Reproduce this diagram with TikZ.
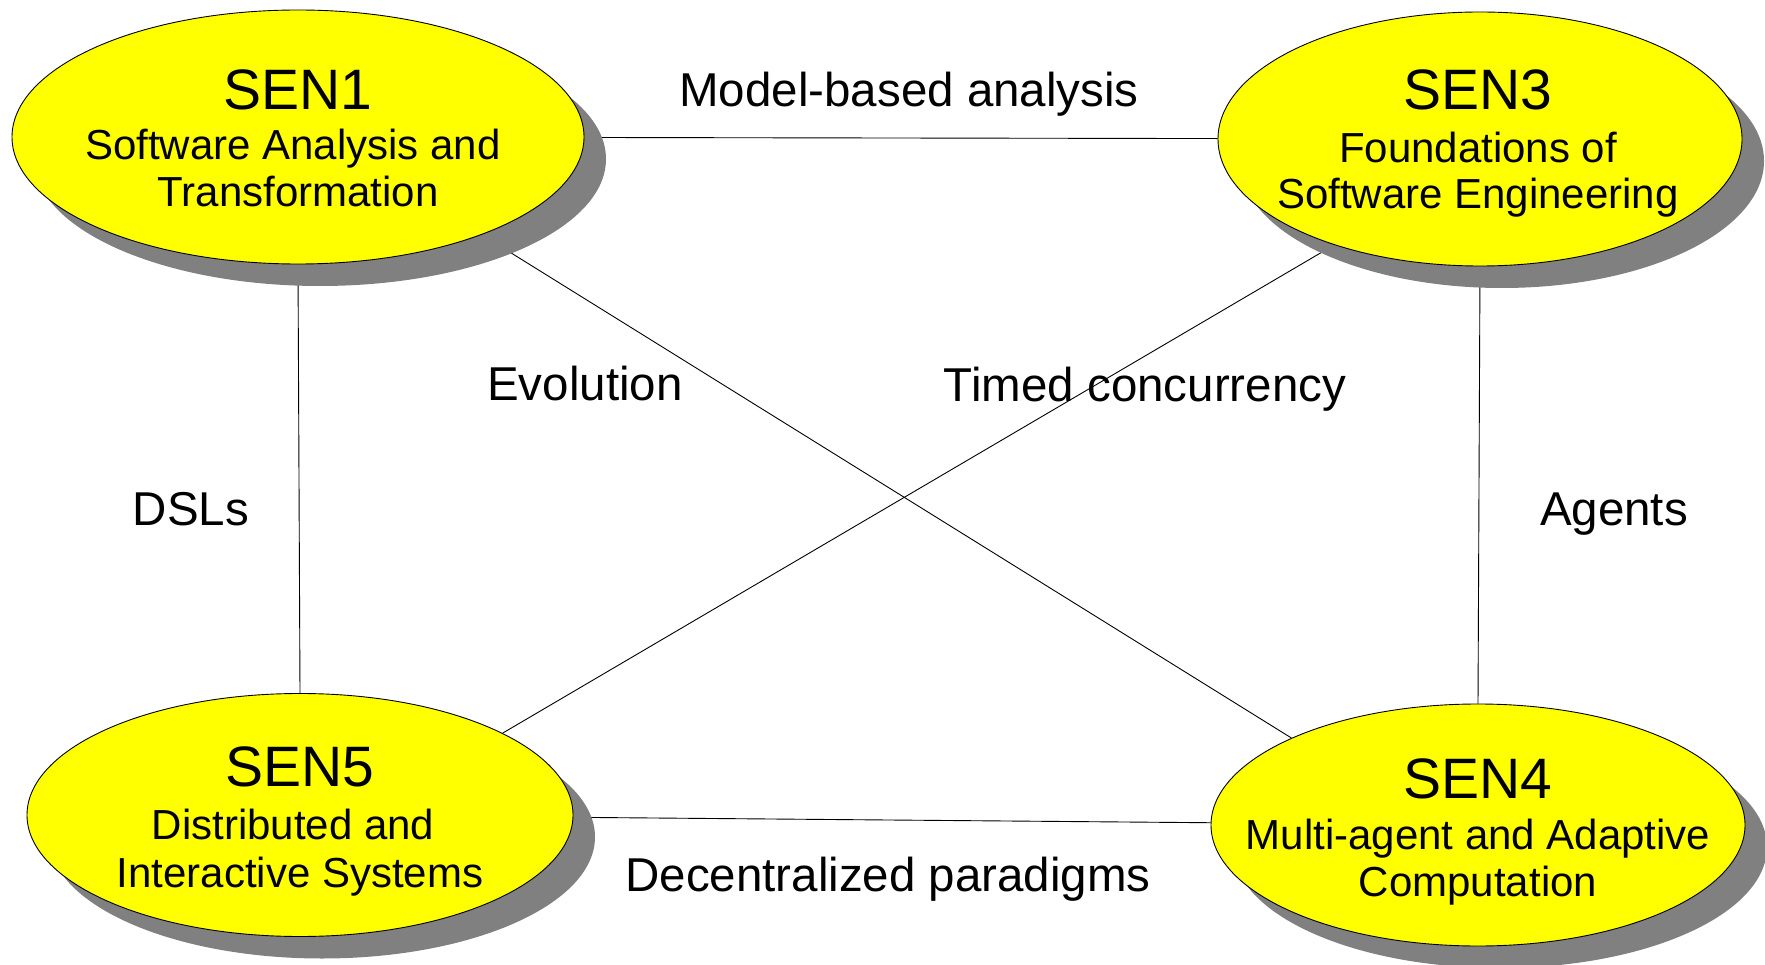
\documentclass[tikz,border=0pt]{standalone}
\usepackage{fontspec}
\setmainfont{Liberation Sans}
\usetikzlibrary{shapes.geometric,shadows}
\pgfdeclarelayer{background}
\pgfsetlayers{background,main}
\definecolor{senyellow}{RGB}{255,255,0}
\definecolor{sengray}{RGB}{128,128,128}
\begin{document}
\begin{tikzpicture}[x=1pt,y=-1pt,
  sen/.style={ellipse,draw=black,line width=0.9pt,fill=senyellow,inner sep=0pt,
    drop shadow={shadow xshift=22pt,shadow yshift=-22pt,fill=sengray,opacity=1}},
  title/.style={anchor=base,inner sep=0pt,font=\fontsize{57}{57}\selectfont},
  sub/.style={anchor=base,inner sep=0pt,font=\fontsize{42}{42}\selectfont},
  lab/.style={anchor=base,inner sep=0pt,font=\fontsize{47.5}{47.5}\selectfont},
  link/.style={draw=black,line width=0.9pt}]
\useasboundingbox (0,0) rectangle (1765,965);

\node[sen,minimum width=572pt,minimum height=254pt] (sen1) at (298,137) {};
\node[sen,minimum width=524pt,minimum height=254pt] (sen3) at (1480,139) {};
\node[sen,minimum width=546pt,minimum height=243pt] (sen5) at (300,815) {};
\node[sen,minimum width=534pt,minimum height=242pt] (sen4) at (1478,825) {};

\node[title] (t1) at (298,110) {SEN1};
\node[sub] (s1a) at (293,160) {Software Analysis and};
\node[sub] (s1b) at (298,207) {Transformation};

\node[title] (t3) at (1478,110) {SEN3};
\node[sub] (s3a) at (1478,163) {Foundations of};
\node[sub] (s3b) at (1478,209) {Software Engineering};

\node[title] (t5) at (300,786) {SEN5};
\node[sub] (s5a) at (293,839) {Distributed and};
\node[sub] (s5b) at (300,887) {Interactive Systems};

\node[title] (t4) at (1478,798) {SEN4};
\node[sub] (s4a) at (1478,849) {Multi-agent and Adaptive};
\node[sub] (s4b) at (1478,896) {Computation};

\node[lab] (l1) at (909,107) {Model-based analysis};
\node[lab] (l2) at (585,401) {Evolution};
\node[lab] (l3) at (1145,402) {Timed concurrency};
\node[lab] (l4) at (191,525) {DSLs};
\node[lab] (l5) at (1614,525) {Agents};
\node[lab] (l6) at (888,891) {Decentralized paradigms};

\begin{pgfonlayer}{background}
\fill[white] (0,0) rectangle (1765,965);
\draw[link] (sen1) -- (sen3);
\draw[link] (sen1.south) -- (sen5.north);
\draw[link] (sen3.south) -- (sen4.north);
\draw[link] (sen5) -- (sen4);
\draw[link] (sen1.-28) -- (sen4.155);
\draw[link] (sen3.-144) -- (sen5.22);
\end{pgfonlayer}
\end{tikzpicture}
\end{document}
